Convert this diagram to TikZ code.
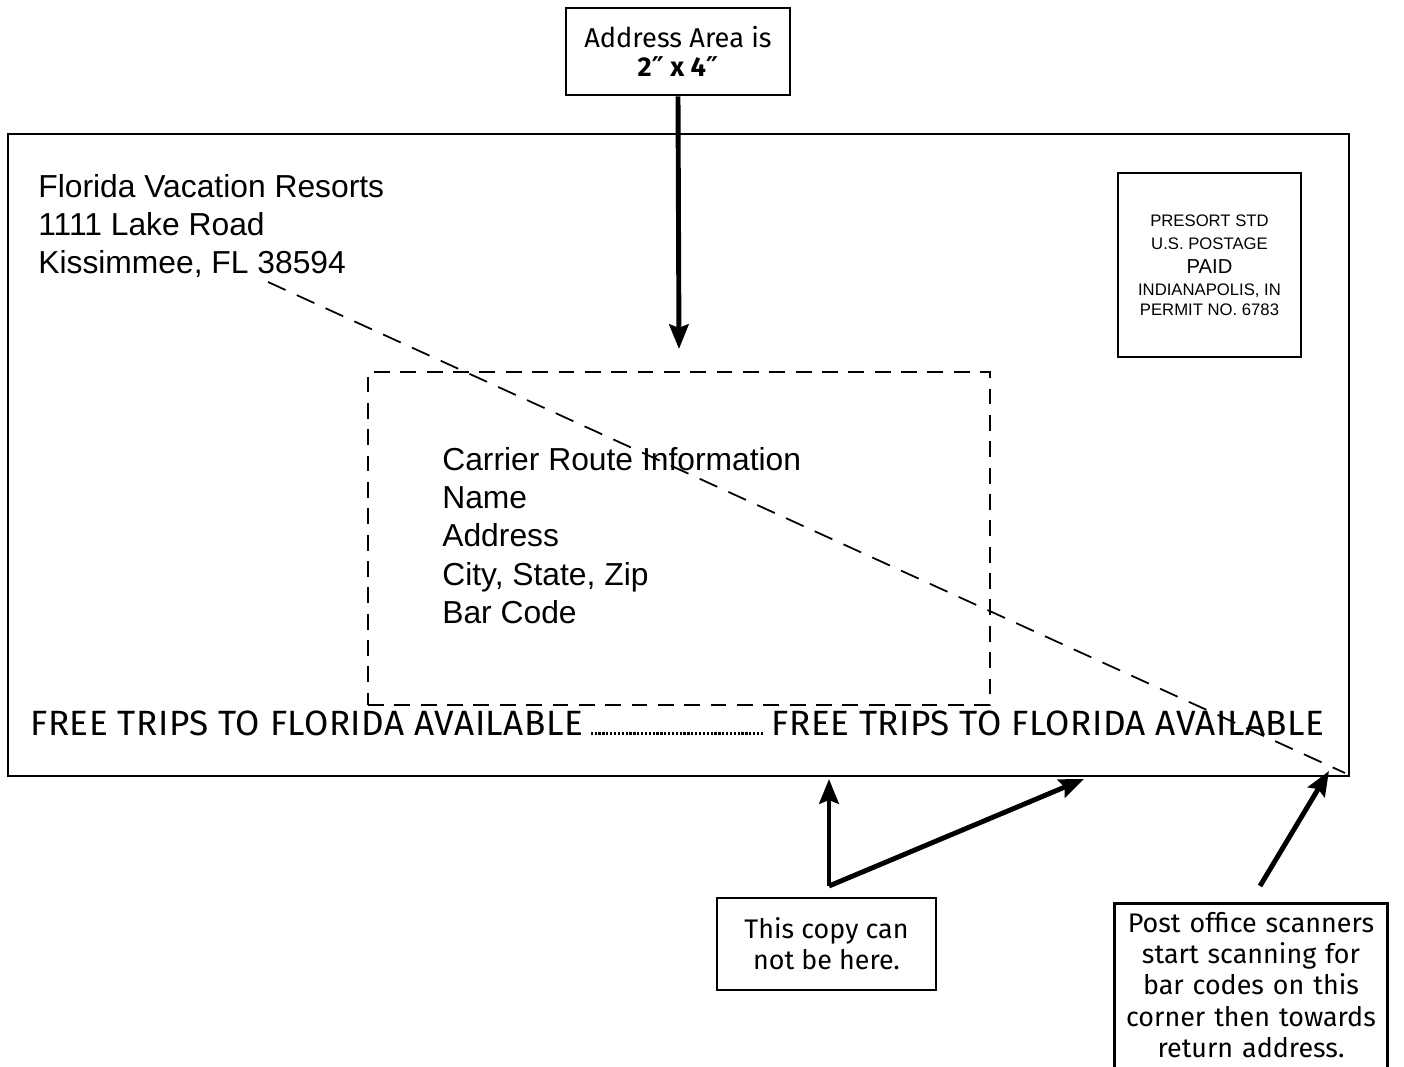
\documentclass[tikz,border=0pt]{standalone}
\usepackage{fontspec}
\setmainfont{Liberation Sans}
\newfontfamily\notefont{Fira Sans}
\newfontfamily\slogfont[LetterSpace=1.5]{Fira Sans}
\newfontfamily\symfont{DejaVu Sans}
\usetikzlibrary{positioning,arrows.meta}

\tikzset{
  box/.style={draw,line width=1.5pt,inner sep=0pt},
  note/.style={draw,line width=1.6pt,align=center,inner sep=5pt,
    font=\notefont\fontsize{15.3}{17.8}\selectfont},
  pointer/.style={line width=2.8pt,-{Stealth[length=14pt,width=11pt,inset=2pt]}},
  guide/.style={line width=0.9pt,dash pattern=on 9pt off 6pt},
  envtext/.style={align=left,inner sep=0pt,font=\fontsize{18.1}{21.8}\selectfont},
  slogan/.style={inner sep=0pt,font=\slogfont\fontsize{20}{22}\selectfont}
}
\newcommand{\inch}{{\symfont\char"2033}}

\begin{document}
\begin{tikzpicture}[x=0.02cm,y=-0.02cm]
  \useasboundingbox (0,0) rectangle (1404,1067);
  \clip (0,0) rectangle (1404,1067);

  % The envelope and the stamp box
  \node[box,minimum width=26.82cm,minimum height=12.84cm] (envelope) at (678.5,455) {};
  \node[box,line width=0.8pt,minimum width=3.66cm,minimum height=3.68cm,align=center,
    font=\fontsize{9.5}{13.6}\selectfont] (stamp) at (1209.5,265)
    {PRESORT STD\\U.S. POSTAGE\\{\fontsize{11.5}{13}\selectfont PAID}\\[-1.5pt]
     INDIANAPOLIS, IN\\[-2pt]PERMIT NO. 6783};

  % Return address, top left
  \node[envtext,anchor=north west] (sender) at (38,174)
    {Florida Vacation Resorts\\1111 Lake Road\\Kissimmee, FL 38594};

  % The 2" x 4" address area, dashed
  \node[box,guide,minimum width=12.44cm,minimum height=6.66cm] (addrarea) at (679,538.5) {};
  \node[envtext,anchor=north west] (recipient) at (442,447)
    {Carrier Route Information\\Name\\Address\\City, State, Zip\\Bar Code};

  % Slogan line along the bottom edge
  \node[slogan,anchor=base west] (sloganleft) at (30,735) {FREE TRIPS TO FLORIDA AVAILABLE};
  \node[slogan,anchor=base east] (sloganright) at (1325,735) {FREE TRIPS TO FLORIDA AVAILABLE};
  \draw[line width=1.6pt,dash pattern=on 1.3pt off 0.9pt]
    ([xshift=4pt,yshift=0.8pt]sloganleft.base east) -- ([xshift=-4pt,yshift=0.8pt]sloganright.base west);

  % Scanning direction: from the corner back to the return address
  \coordinate (scanstart) at (268,282);
  \coordinate (scanend) at (1345,773);
  \draw[guide,line width=1pt,dash pattern=on 11pt off 7pt] (scanstart) -- (scanend);

  % Callout boxes
  \node[note,minimum width=4.48cm,minimum height=1.74cm,
    font=\notefont\fontsize{15.5}{16.5}\selectfont] (areanote) at (678,51.5)
    {Address Area is\\\textbf{2\inch{} x 4\inch}};
  \node[note,minimum width=4.38cm,minimum height=1.84cm] (copynote) at (826.5,944)
    {This copy can\\not be here.};
  \node[note,text width=5.1cm,anchor=north] (scannote) at (1251,902)
    {Post office scanners\\start scanning for\\bar codes on this\\corner then towards\\return address.\\\mbox{}};

  % Arrows
  \coordinate (areatip) at (679,349);
  \coordinate (fork) at (829,886);
  \coordinate (copytipa) at (829,779);
  \coordinate (copytipb) at (1084,779);
  \coordinate (scanfoot) at (1260,886);
  \coordinate (cornertip) at (1329,771);
  \draw[pointer] (areanote.south) -- (areatip);
  \draw[pointer] (fork) -- (copytipa);
  \draw[pointer] (fork) -- (copytipb);
  \draw[pointer] (scanfoot) -- (cornertip);
\end{tikzpicture}
\end{document}
